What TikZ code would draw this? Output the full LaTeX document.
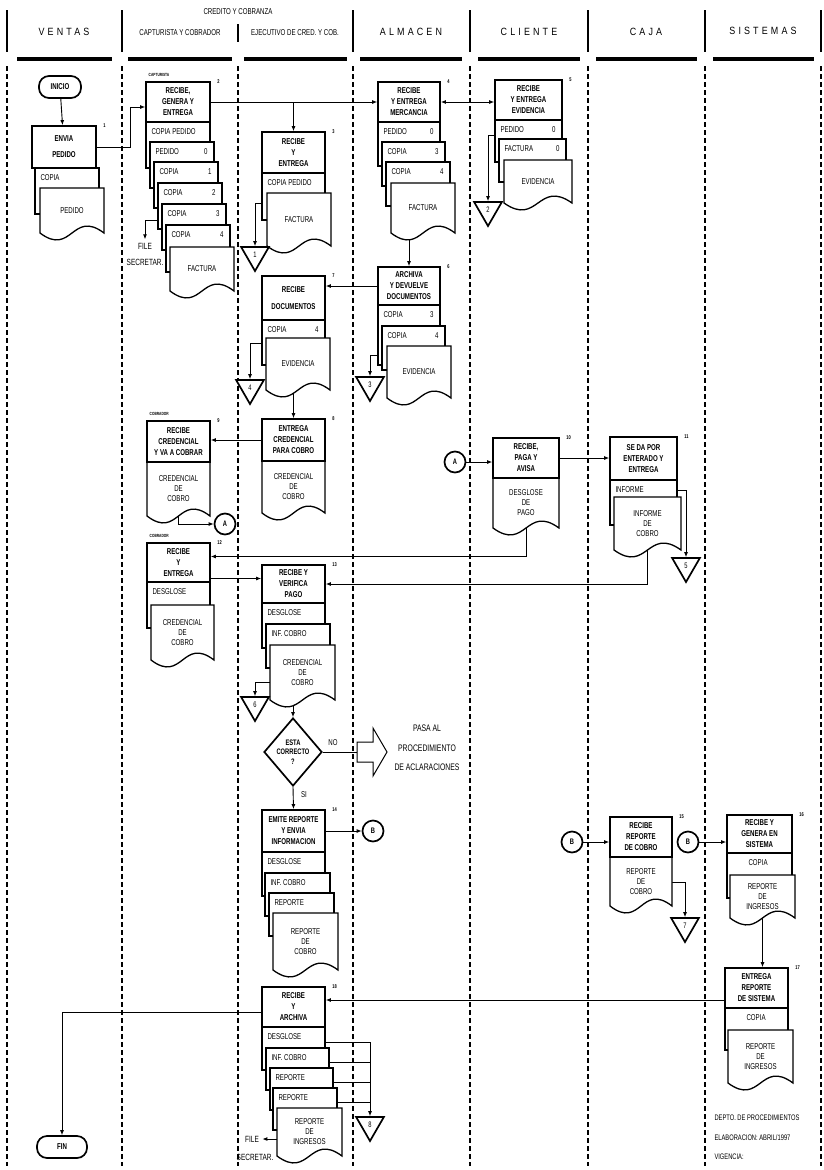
\documentclass[tikz,border=0pt]{standalone}
\usepackage{fontspec}
\setmainfont[FakeStretch=0.72]{Liberation Sans}
\newfontfamily\hdrfamily[FakeStretch=0.85,LetterSpace=30]{Liberation Sans}
\usepackage{tikz}
\usetikzlibrary{
  calc,
  positioning,
  arrows.meta,
  shapes.geometric,
  backgrounds
}

% document strip: name, x1, y1, x2, y2, label, number
\newcommand{\docstrip}[7]{%
  \draw[docline] (#2,#3) rectangle (#4,#5);
  \node[doctext, anchor=west] (#1) at ({#2+2},{#3+9.5}) {#6};
  \node[doctext, anchor=east] (#1n) at ({#4-3},{#3+9.5}) {#7};
}
% last document with wavy bottom: name, x1, y1, x2, bottom, label
\newcommand{\docwave}[6]{%
  \draw[docline] (#2,#3) -- (#4,#3) -- (#4,{#5-7})
    .. controls ({(#2+#4)/2},{#5-31}) and ({(#2+#4)/2},{#5+17}) .. (#2,{#5-7}) -- cycle;
  \node[doctext, align=center, inner sep=0pt, minimum width={(#4-#2)*1pt},
    minimum height={(#5-7-#3)*1pt}] (#1) at ({(#2+#4)/2},{(#3+#5-7)/2}) {#6};
}

\begin{document}
\begin{tikzpicture}[x=1pt, y=-1pt, >={Latex[length=5pt,width=4pt]}]
  \tikzset{
    lane/.style={line width=1.1pt, dash pattern=on 5pt off 3pt},
    hbar/.style={line width=2.6pt},
    ubar/.style={line width=4pt},
    box/.style={draw, line width=1.7pt, fill=white, align=center, inner sep=0pt,
      minimum width=63pt, minimum height=40pt, font=\fontsize{8.5}{11}\selectfont\bfseries},
    docline/.style={line width=1.3pt, fill=white},
    doctext/.style={font=\fontsize{8.5}{10}\selectfont},
    numtext/.style={font=\fontsize{5.5}{6}\selectfont\bfseries},
    term/.style={draw, line width=1.7pt, rounded corners=10pt, minimum width=50pt,
      minimum height=22pt, font=\fontsize{8.5}{9}\selectfont\bfseries},
    conn/.style={draw, circle, line width=1.7pt, fill=white, minimum size=21pt, inner sep=0pt,
      font=\fontsize{8}{8}\selectfont\bfseries},
    arch/.style={draw, regular polygon, regular polygon sides=3, shape border rotate=180,
      line width=1.7pt, fill=white, minimum size=32pt, inner sep=0pt, font=\fontsize{8}{8}\selectfont},
    link/.style={line width=0.9pt},
    hdr/.style={font=\hdrfamily\fontsize{10.5}{12}\selectfont},
    subhdr/.style={font=\fontsize{8.5}{9}\selectfont},
    tag/.style={font=\fontsize{4.5}{5}\selectfont\bfseries},
    foot/.style={font=\fontsize{8}{8}\selectfont, anchor=west},
  }
  \useasboundingbox (0,0) rectangle (824,1170);

  % header
  \draw[hbar] (7,10) -- (7,52) (122,10) -- (122,52) (353,10) -- (353,52)
    (470,10) -- (470,52) (588,10) -- (588,52) (705,10) -- (705,52) (821,10) -- (821,52);
  \draw[hbar] (238,24) -- (238,42);
  \draw[ubar] (17,59) -- (112,59) (128,59) -- (232,59) (244,59) -- (347,59)
    (360,59) -- (462,59) (478,59) -- (580,59) (596,59) -- (697,59) (713,59) -- (814,59);
  \node[hdr] (hventas) at (64,32) {VENTAS};
  \node[subhdr] (hcredito) at (238,12) {CREDITO Y COBRANZA};
  \node[subhdr] (hcaptur) at (180,33) {CAPTURISTA Y COBRADOR};
  \node[subhdr] (hejec) at (295,33) {EJECUTIVO DE CRED. Y COB.};
  \node[hdr] (halmacen) at (411,32) {ALMACEN};
  \node[hdr] (hcliente) at (529,32) {CLIENTE};
  \node[hdr] (hcaja) at (646,32) {CAJA};
  \node[hdr] (hsistemas) at (763,31) {SISTEMAS};

  % lanes
  \draw[lane] (7,66) -- (7,1166) (122,66) -- (122,1166) (238,66) -- (238,1166)
    (353,66) -- (353,1166) (470,66) -- (470,1166) (588,66) -- (588,1166)
    (705,66) -- (705,1166) (821,66) -- (821,1166);

  % ventas
  \node[term, minimum width=42pt] (inicio) at (60,87) {INICIO};
  \docstrip{s1a}{35}{168}{99}{214}{COPIA}{}
  \docwave{w1}{40}{188}{104}{240}{PEDIDO}
  \node[box, minimum width=64pt, minimum height=42pt] (b1) at (64,147) {ENVIA\\[5pt]PEDIDO};
  \node[numtext, right=3pt of b1.north east] (n1) {1};

  % capturista
  \docstrip{s2a}{146}{122}{210}{168}{COPIA PEDIDO}{}
  \docstrip{s2b}{150}{142}{214}{188}{PEDIDO}{0}
  \docstrip{s2c}{154}{162}{218}{208}{COPIA}{1}
  \docstrip{s2d}{158}{183}{222}{229}{COPIA}{2}
  \docstrip{s2e}{162}{204}{226}{250}{COPIA}{3}
  \docstrip{s2f}{166}{225}{230}{272}{COPIA}{4}
  \docwave{w2}{170}{247}{234}{298}{FACTURA}
  \node[box, minimum width=64pt] (b2) at (178,102) {RECIBE,\\GENERA Y\\ENTREGA};
  \node[numtext, right=3pt of b2.north east] (n2) {2};
  \node[tag, above=1pt of b2.north west, anchor=south west] (tcapt) {CAPTURISTA};
  \node[doctext, align=center, font=\fontsize{9}{16}\selectfont] (file1) at (145,254) {FILE\\SECRETAR.};

  % ejecutivo
  \docstrip{s3a}{262}{173}{325}{220}{COPIA PEDIDO}{}
  \docwave{w3}{267}{193}{331}{253}{FACTURA}
  \node[box, minimum height=41pt] (b3) at (293.5,152.5) {RECIBE\\Y\\ENTREGA};
  \node[numtext, right=3pt of b3.north east] (n3) {3};

  % almacen
  \docstrip{s4a}{378}{122}{440}{166}{PEDIDO}{0}
  \docstrip{s4b}{382}{142}{445}{186}{COPIA}{3}
  \docstrip{s4c}{386}{162}{450}{206}{COPIA}{4}
  \docwave{w4}{391}{183}{455}{240}{FACTURA}
  \node[box, minimum width=62pt] (b4) at (409,102) {RECIBE\\Y ENTREGA\\MERCANCIA};
  \node[numtext, right=3pt of b4.north east] (n4) {4};

  % cliente
  \docstrip{s5a}{495}{120}{562}{162}{PEDIDO}{0}
  \docstrip{s5b}{499}{139}{566}{182}{FACTURA}{0}
  \docwave{w5}{504}{160}{572}{210}{EVIDENCIA}
  \node[box, minimum width=67pt] (b5) at (528.5,100) {RECIBE\\Y ENTREGA\\EVIDENCIA};
  \node[numtext, right=3pt of b5.north east] (n5) {5};

  \docstrip{s6a}{378}{305}{440}{365}{COPIA}{3}
  \docstrip{s6b}{382}{326}{445}{370}{COPIA}{4}
  \docwave{w6}{387}{346}{451}{405}{EVIDENCIA}
  \node[box, minimum width=62pt, minimum height=38pt] (b6) at (409,286) {ARCHIVA\\Y DEVUELVE\\DOCUMENTOS};
  \node[numtext, right=3pt of b6.north east] (n6) {6};

  \docstrip{s7a}{262}{320}{325}{365}{COPIA}{4}
  \docwave{w7}{266}{338}{330}{397}{EVIDENCIA}
  \node[box, minimum height=44pt] (b7) at (293.5,298) {RECIBE\\[6pt]DOCUMENTOS};
  \node[numtext, right=3pt of b7.north east] (n7) {7};

  \docwave{w8}{262}{461}{325}{520}{CREDENCIAL\\DE\\COBRO}
  \node[box, minimum height=42pt] (b8) at (293.5,440) {ENTREGA\\CREDENCIAL\\PARA COBRO};
  \node[numtext, right=3pt of b8.north east] (n8) {8};

  \docwave{w9}{147}{462}{210}{523}{CREDENCIAL\\DE\\COBRO}
  \node[box, minimum height=41pt] (b9) at (178.5,441.5) {RECIBE\\CREDENCIAL\\Y VA A COBRAR};
  \node[numtext, right=3pt of b9.north east] (n9) {9};
  \node[tag, above=1pt of b9.north west, anchor=south west] (tcob1) {COBRADOR};

  \docwave{w10}{493}{478}{559}{535}{DESGLOSE\\DE\\PAGO}
  \node[box, minimum width=66pt] (b10) at (526,458) {RECIBE,\\PAGA Y\\AVISA};
  \node[numtext, right=3pt of b10.north east] (n10) {10};

  \docstrip{s11a}{610}{480}{677}{525}{INFORME}{}
  \docwave{w11}{614}{497}{681}{557}{INFORME\\DE\\COBRO}
  \node[box, minimum width=67pt, minimum height=43pt] (b11) at (643.5,458.5) {SE DA POR\\ENTERADO Y\\ENTREGA};
  \node[numtext, right=3pt of b11.north east] (n11) {11};

  \docstrip{s12a}{147}{582}{210}{628}{DESGLOSE}{}
  \docwave{w12}{151}{605}{214}{667}{CREDENCIAL\\DE\\COBRO}
  \node[box, minimum height=39pt] (b12) at (178.5,562.5) {RECIBE\\Y\\ENTREGA};
  \node[numtext, right=3pt of b12.north east] (n12) {12};
  \node[tag, above=1pt of b12.north west, anchor=south west] (tcob2) {COBRADOR};

  \docstrip{s13a}{262}{603}{325}{648}{DESGLOSE}{}
  \docstrip{s13b}{266}{624}{330}{668}{INF. COBRO}{}
  \docwave{w13}{270}{645}{335}{707}{CREDENCIAL\\DE\\COBRO}
  \node[box, minimum height=38pt] (b13) at (293.5,584) {RECIBE Y\\VERIFICA\\PAGO};
  \node[numtext, right=3pt of b13.north east] (n13) {13};

  \node[draw, diamond, aspect=0.85, line width=1.7pt, fill=white, minimum width=58pt,
    minimum height=68pt, inner sep=0pt, align=center,
    font=\fontsize{8}{9.5}\selectfont\bfseries] (dia) at (293,752) {ESTA\\CORRECTO\\?};
  \node[doctext] (no) at (333,743) {NO};
  \node[doctext] (si) at (304,795) {SI};
  \coordinate (noend) at (357,752);
  \draw[line width=1pt, fill=white] (noend) ++(0,-10) -- ++(16,0) -- ++(0,-14) -- ++(14,24)
    -- ++(-14,24) -- ++(0,-14) -- ++(-16,0) -- cycle;
  \node[align=center, font=\fontsize{9.5}{19.5}\selectfont] (aclar) at (427,748)
    {PASA AL\\PROCEDIMIENTO\\DE ACLARACIONES};

  \docstrip{s14a}{262}{852}{325}{896}{DESGLOSE}{}
  \docstrip{s14b}{265}{873}{330}{916}{INF. COBRO}{}
  \docstrip{s14c}{269}{893}{334}{936}{REPORTE}{}
  \docwave{w14}{273}{913}{338}{977}{REPORTE\\DE\\COBRO}
  \node[box, minimum height=42pt] (b14) at (293.5,831) {EMITE REPORTE\\Y ENVIA\\INFORMACION};
  \node[numtext, right=3pt of b14.north east] (n14) {14};

  % caja
  \docwave{w15}{610}{857}{672}{913}{REPORTE\\DE\\COBRO}
  \node[box, minimum width=62pt] (b15) at (641,837) {RECIBE\\REPORTE\\DE COBRO};
  \node[numtext, right=3pt of b15.north east] (n15) {15};

  % sistemas
  \docstrip{s16a}{727}{853}{792}{898}{\hspace*{16pt}COPIA}{}
  \docwave{w16}{730}{875}{795}{925}{REPORTE\\DE\\INGRESOS}
  \node[box, minimum width=65pt, minimum height=38pt] (b16) at (759.5,834) {RECIBE Y\\GENERA EN\\SISTEMA};
  \node[numtext, right=3pt of b16.north east] (n16) {16};

  \docstrip{s17a}{725}{1008}{788}{1050}{\hspace*{16pt}COPIA}{}
  \docwave{w17}{728}{1030}{793}{1090}{REPORTE\\DE\\INGRESOS}
  \node[box] (b17) at (756.5,988) {ENTREGA\\REPORTE\\DE SISTEMA};
  \node[numtext, right=3pt of b17.north east] (n17) {17};

  \docstrip{s18a}{262}{1027}{325}{1070}{DESGLOSE}{}
  \docstrip{s18b}{266}{1048}{329}{1090}{INF. COBRO}{}
  \docstrip{s18c}{270}{1068}{333}{1110}{REPORTE}{}
  \docstrip{s18d}{273}{1088}{337}{1130}{REPORTE}{}
  \docwave{w18}{277}{1108}{342}{1163}{REPORTE\\DE\\INGRESOS}
  \node[box] (b18) at (293.5,1007) {RECIBE\\Y\\ARCHIVA};
  \node[numtext, right=3pt of b18.north east] (n18) {18};
  \node[doctext, font=\fontsize{9}{10}\selectfont] (file2) at (252,1139) {FILE};
  \node[doctext, font=\fontsize{9}{10}\selectfont] (secr2) at (255,1157) {SECRETAR.};

  \node[term] (fin) at (62,1147) {FIN};

  % connectors and archive marks
  \node[conn] (ca1) at (225,524) {A};
  \node[conn] (ca2) at (455,462) {A};
  \node[conn] (cb1) at (373,831) {B};
  \node[conn] (cb2) at (572,842) {B};
  \node[conn] (cb3) at (688,842) {B};

  \node[arch] (t1) at (255,255) {1};
  \node[arch] (t2) at (488,210) {2};
  \node[arch] (t3) at (370,385) {3};
  \node[arch] (t4) at (250,388) {4};
  \node[arch] (t5) at (686,566) {5};
  \node[arch] (t6) at (255,705) {6};
  \node[arch] (t7) at (685,926) {7};
  \node[arch] (t8) at (370,1125) {8};

  \node[foot] (depto) at (711,1118) {DEPTO. DE PROCEDIMIENTOS};
  \node[foot] (elab) at (711,1138) {ELABORACION: ABRIL/1997};
  \node[foot] (vig) at (711,1157) {VIGENCIA:};

  \begin{pgfonlayer}{background}
    \draw[link,->] (inicio) -- (b1);
    \draw[link,->] (b1.east) -- ++(34,0) |- ([yshift=-5pt]b2.west);
    \draw[link,->] (b2.east) -- (b4.west);
    \draw[link,->] (b3.north |- b2.east) -- (b3.north);
    \draw[link,<->] (b4.east) -- (b4.east -| b5.west);
    \draw[link,->] (b6.north |- w4.south) -- (b6.north);
    \draw[link,->] (b6.west) -- (b6.west -| b7.east);
    \draw[link,->] (b8.north |- w7.south) -- (b8.north);
    \draw[link,->] (b8.west) -- (b8.west -| b9.east);
    \draw[link,->] (w9.south) |- (ca1.west);
    \draw[link,->] (ca2.east) -- (ca2.east -| b10.west);
    \draw[link,->] (b10.east) -- (b10.east -| b11.west);
    \draw[link,->] (w10.south) |- ([yshift=6pt]b12.east);
    \draw[link,->] (w11.south) |- (b13.east);
    \draw[link,->] ([yshift=-16pt]b12.east) -- ([yshift=-16pt]b12.east -| b13.west);
    \draw[link,->] (dia.north |- w13.south) -- (dia.north);
    \draw[link] (dia.east) -- (noend);
    \draw[link,->] (dia.south) -- (b14.north);
    \draw[link,->] (b14.east) -- (cb1.west);
    \draw[link,->] (cb2.east) -- (cb2.east -| b15.west);
    \draw[link,->] (cb3.east) -- (cb3.east -| b16.west);
    \draw[link,->] (w16.south) -- (w16.south |- b17.north);
    \draw[link,->] ([yshift=-12pt]b17.west) -- ([yshift=-12pt]b17.west -| b18.east);
    \draw[link,->] ([yshift=-5pt]b18.west) -| (fin.north);

    \coordinate (c1) at (262,203);
    \coordinate (c2) at (495,135);
    \coordinate (c3) at (378,355);
    \coordinate (c4) at (262,343);
    \coordinate (c5) at (677,490);
    \coordinate (c6) at (270,682);
    \coordinate (c7) at (672,882);
    \coordinate (c8a) at (325,1042);
    \coordinate (c8b) at (329,1062);
    \coordinate (c8c) at (333,1082);
    \coordinate (c8d) at (337,1102);
    \coordinate (c9) at (158,220);
    \coordinate (c10) at (277,1139);
    \draw[link,->] (c1) -| (t1.north);
    \draw[link,->] (c2) -| (t2.north);
    \draw[link,->] (c3) -| (t3.north);
    \draw[link,->] (c4) -| (t4.north);
    \draw[link,->] (c5) -| (t5.north);
    \draw[link,->] (c6) -| (t6.north);
    \draw[link,->] (c7) -| (t7.north);
    \draw[link,->] (c8a) -| (t8.north);
    \draw[link] (c8b) -- (c8b -| t8.north) (c8c) -- (c8c -| t8.north) (c8d) -- (c8d -| t8.north);
    \draw[link,->] (c9) -| (file1.north);
    \draw[link,->] (c10) -- (file2.east);
  \end{pgfonlayer}
\end{tikzpicture}
\end{document}
